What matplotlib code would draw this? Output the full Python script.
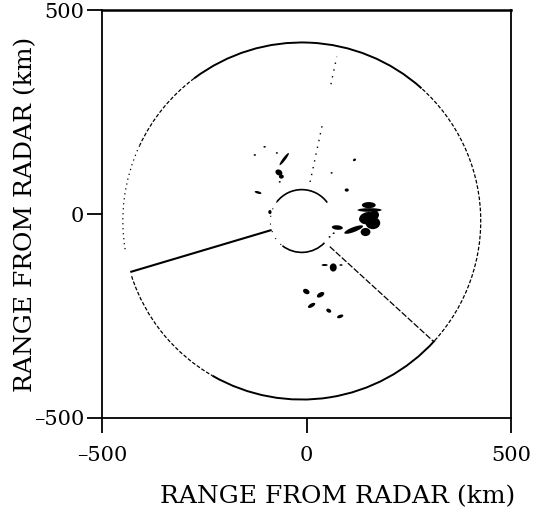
import numpy as np
import matplotlib
matplotlib.use("Agg")
import matplotlib.pyplot as plt
from matplotlib.patches import Arc, Ellipse

plt.rcParams["font.family"] = ["DejaVu Serif"]

# radar site and range rings (km)
radar_x, radar_y = -12, -17
outer_r = 438
inner_r = 77

# pieces of the outer ring, degrees counter-clockwise from east
ring_solid = [(48, 127), (240, 318)]
ring_dashed = [(127, 155), (198, 240), (318, 408)]
ring_dotted = [(155, 190)]
inner_arcs = [(36, 142), (232, 316)]

# radials: angle (deg), start range, end range (km)
spoke_angle = [196.6, -42.5, 78.0, 78.0]
spoke_r0 = [77, 93, 98, 343]
spoke_r1 = [438, 438, 245, 412]

# precipitation echoes as ellipses: centre x, y, width, height (km), tilt (deg)
echo_x = [150, 162, 152, 154, 115, 75, 144, 166, 98, 117, 61, 56, 66,
          -68, -62, -55, -127, -103, -73, -66, -119, -90,
          65, 44, 84, -1, 34, 12, 54, 82]
echo_y = [-10, -22, 22, 10, -38, -33, -44, -2, 59, 133, 101, -56, -47,
          102, 92, 135, 145, 165, 150, 79, 53, 5,
          -131, -125, -125, -190, -198, -224, -237, -251]
echo_w = [44, 36, 34, 59, 49, 27, 24, 22, 10, 8, 5, 5, 5,
          14, 12, 37, 6, 6, 5, 5, 17, 8,
          17, 15, 8, 17, 20, 20, 13, 16]
echo_h = [30, 30, 15, 9, 12, 11, 20, 22, 8, 6, 4, 4, 4,
          18, 10, 7, 4, 4, 4, 4, 6, 10,
          20, 5, 4, 12, 11, 9, 9, 8]
echo_tilt = [10, 0, 0, 0, 21, -5, 0, 0, 0, 30, 0, 0, 0,
             60, 0, 53, 0, 0, 0, 0, -15, 0,
             0, 0, 0, -30, 30, 30, -30, 20]

fig = plt.figure(figsize=(5.39, 5.14), dpi=100)
ax = fig.add_axes([0.19, 0.187, 0.758, 0.793])

def ring(a0, a1, ls, lw):
    ax.add_patch(Arc((radar_x, radar_y), 2 * outer_r, 2 * outer_r,
                     theta1=a0, theta2=a1, color="black", lw=lw, ls=ls))

for a0, a1 in ring_solid:
    ring(a0, a1, "-", 1.4)
for a0, a1 in ring_dashed:
    ring(a0, a1, (0, (3, 1.5)), 0.9)
for a0, a1 in ring_dotted:
    ring(a0, a1, (0, (1, 3)), 0.9)

for a0, a1 in inner_arcs:
    ax.add_patch(Arc((radar_x, radar_y), 2 * inner_r, 2 * inner_r,
                     theta1=a0, theta2=a1, color="black", lw=1.2))
ax.add_patch(Arc((radar_x, radar_y), 2 * inner_r, 2 * inner_r,
                 theta1=142, theta2=232, color="black", lw=0.8, ls=(0, (1, 6))))

for i, (ang, r0, r1) in enumerate(zip(spoke_angle, spoke_r0, spoke_r1)):
    t = np.radians(ang)
    xs = [radar_x + r0 * np.cos(t), radar_x + r1 * np.cos(t)]
    ys = [radar_y + r0 * np.sin(t), radar_y + r1 * np.sin(t)]
    if i == 0:
        ax.plot(xs, ys, color="black", lw=1.5, solid_capstyle="butt")
    elif i == 1:
        ax.plot(xs, ys, color="black", lw=0.9, ls=(0, (5, 1.5)))
    else:
        ax.plot(xs, ys, color="black", lw=1.0, ls=(0, (1, 4)))

for x, y, w, h, a in zip(echo_x, echo_y, echo_w, echo_h, echo_tilt):
    ax.add_patch(Ellipse((x, y), w, h, angle=a, color="black", lw=0))

ax.set_xlim(-500, 500)
ax.set_ylim(-500, 500)
ax.set_xticks([-500, 0, 500])
ax.set_yticks([-500, 0, 500])
ax.set_xticklabels(["\u2013500", "0", "500"])
ax.set_yticklabels(["\u2013500", "0", "500"])
ax.tick_params(direction="out", length=11, width=1.3, labelsize=15)
ax.tick_params(axis="x", pad=9)
ax.tick_params(axis="y", pad=2)
for sp in ax.spines.values():
    sp.set_linewidth(1.3)
ax.spines["top"].set_linewidth(1.8)

ax.set_xlabel("RANGE FROM RADAR (km)", fontsize=18)
ax.xaxis.set_label_coords(0.575, -0.165)
ax.set_ylabel("RANGE FROM RADAR (km)", fontsize=18)
ax.yaxis.set_label_coords(-0.16, 0.5)

fig.savefig("out.png", dpi=100)
